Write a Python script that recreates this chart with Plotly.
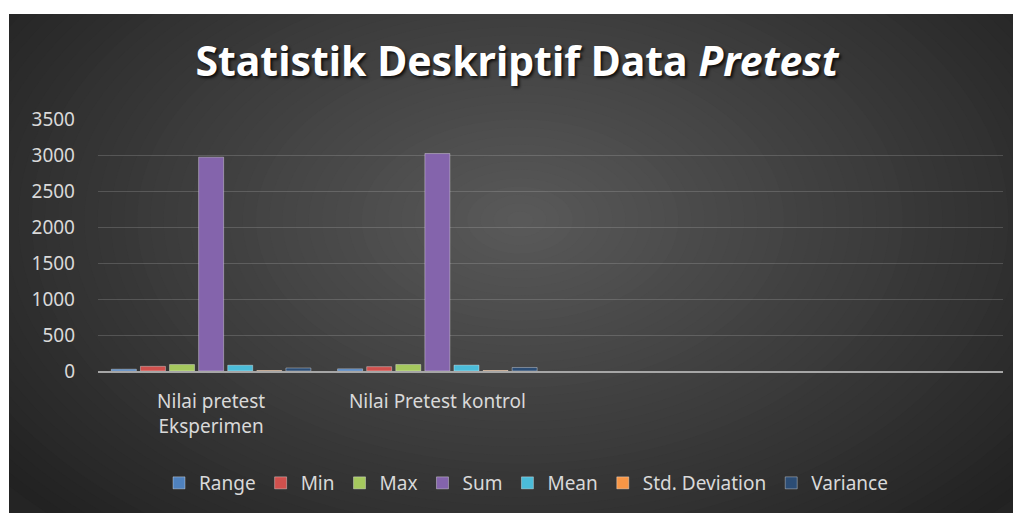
import plotly.graph_objects as go

# ---------------- data ----------------
categories = ["Nilai pretest<br>Eksperimen", "Nilai Pretest kontrol"]
axis_slots = ["Nilai pretest<br>Eksperimen", "Nilai Pretest kontrol", " ", "  "]
series_names = ["Range", "Min", "Max", "Sum", "Mean", "Std. Deviation", "Variance"]
range_vals = [25, 30]
min_vals = [65, 60]
max_vals = [90, 90]
sum_vals = [2970, 3020]
mean_vals = [80.3, 81.6]
std_vals = [6.5, 7.0]
var_vals = [42, 49]
series_values = [range_vals, min_vals, max_vals, sum_vals, mean_vals, std_vals, var_vals]
series_colors = ["#4F81BD", "#D0504D", "#A5C85E", "#8464AC", "#4BBCD9", "#F79646", "#2C4D75"]
y_ticks = [0, 500, 1000, 1500, 2000, 2500, 3000, 3500]

# ---------------- layout geometry (page pixels) ----------------
OFF = 8                      # browser body margin
PAGE_W, PAGE_H = 1021, 513
W, H = PAGE_W - OFF, PAGE_H - OFF
PLOT_L, PLOT_R, PLOT_T, PLOT_B = 98, 1003, 119, 371   # page px
L, R, T, B = PLOT_L - OFF, PAGE_W - PLOT_R, PLOT_T - OFF, PAGE_H - PLOT_B
PW, PH = PLOT_R - PLOT_L, PLOT_B - PLOT_T


def px_x(p):
    return (p - PLOT_L) / PW


def px_y(p):
    return (PLOT_B - p) / PH


fig = go.Figure()
for name, vals, col in zip(series_names, series_values, series_colors):
    fig.add_trace(go.Bar(
        name=name, x=categories, y=vals,
        marker=dict(color=col, line=dict(color="rgba(255,255,255,0.35)", width=1)),
    ))

# ---------------- background (radial gradient, stepped) ----------------
shapes = []
shapes.append(dict(type="rect", xref="paper", yref="paper", layer="below",
                   x0=px_x(9), x1=px_x(PAGE_W + 20), y0=px_y(PAGE_H + 20), y1=px_y(14),
                   fillcolor="#242424", line=dict(width=0)))
cx, cy = 520, 220
rx, ry = 660, 420
c_out = (0x22, 0x22, 0x22)
c_in = (0x5a, 0x5a, 0x5a)
N = 50
for i in range(N):
    t = 1 - i / N
    col = tuple(int(round(c_in[k] + (c_out[k] - c_in[k]) * t)) for k in range(3))
    shapes.append(dict(type="circle", xref="paper", yref="paper", layer="below",
                       x0=px_x(cx - rx * t), x1=px_x(cx + rx * t),
                       y0=px_y(cy + ry * t), y1=px_y(cy - ry * t),
                       fillcolor="rgb(%d,%d,%d)" % col, line=dict(width=0)))
# white borders (top and left strips)
shapes.append(dict(type="rect", xref="paper", yref="paper", layer="below",
                   x0=px_x(-50), x1=px_x(PAGE_W + 50), y0=px_y(14), y1=px_y(-100),
                   fillcolor="white", line=dict(width=0)))
shapes.append(dict(type="rect", xref="paper", yref="paper", layer="below",
                   x0=px_x(-100), x1=px_x(9), y0=px_y(PAGE_H + 50), y1=px_y(-100),
                   fillcolor="white", line=dict(width=0)))

txt = "#D9D9D9"
fig.update_layout(
    width=W, height=H, autosize=False,
    margin=dict(l=L, r=R, t=T, b=B, autoexpand=False),
    paper_bgcolor="white", plot_bgcolor="rgba(0,0,0,0)",
    shapes=shapes,
    barmode="group", bargap=0.1, bargroupgap=0.14,
    title=dict(text="Statistik Deskriptif Data <i>Pretest</i>",
               x=(517 - OFF) / W, xanchor="center", y=1 - (62 - OFF) / H, yanchor="middle",
               font=dict(family="Noto Sans", size=41, color="white", weight="bold",
                         shadow="2px 2px 3px rgba(0,0,0,0.8)")),
    font=dict(family="Noto Sans", size=19, color=txt),
    xaxis=dict(type="category", categoryorder="array", categoryarray=axis_slots,
               range=[-0.5, 3.5], showline=True, linecolor="#A6A6A6", linewidth=2,
               showgrid=False, ticks="", ticklabelstandoff=12, tickangle=0,
               automargin=False,
               tickfont=dict(family="Noto Sans", size=19, color=txt)),
    yaxis=dict(range=[0, 3500], tickvals=y_ticks, showgrid=True,
               gridcolor="rgba(200,200,200,0.22)", gridwidth=1, zeroline=False,
               ticks="", ticklabelstandoff=22, automargin=False,
               tickfont=dict(family="Noto Sans", size=19, color=txt)),
    legend=dict(orientation="h", x=px_x(526), xanchor="center",
                y=px_y(483), yanchor="middle", bgcolor="rgba(0,0,0,0)",
                font=dict(family="Noto Sans", size=19, color=txt),
                traceorder="normal"),
    showlegend=True,
)

fig.write_html("out.html")
